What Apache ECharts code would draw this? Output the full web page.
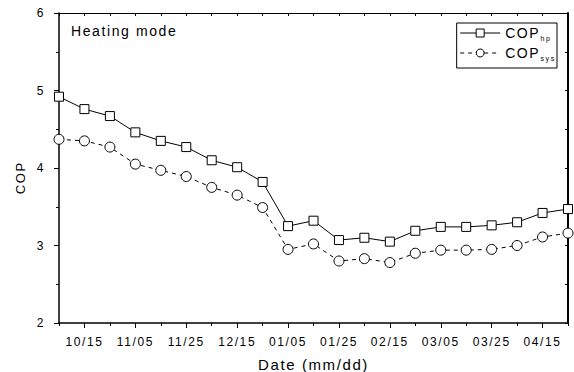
<!DOCTYPE html>
<html>
<head>
<meta charset="utf-8">
<script src="https://cdn.jsdelivr.net/npm/echarts@6/dist/echarts.min.js"></script>
<style>
	html, body { margin: 0; padding: 0; background: #fff; }
	#chart { width: 574px; height: 372px; }
	/* Origin-style wide tracking */
	#chart text { letter-spacing: 1.6px; }
</style>
</head>
<body>
<div id="chart"></div>
<script>
// dates every ~10 days, only every other one is labelled
var dates = ['10/05', '10/15', '10/25', '11/05', '11/15', '11/25', '12/05', '12/15', '12/25', '01/05',
	'01/15', '01/25', '02/05', '02/15', '02/25', '03/05', '03/15', '03/25', '04/05', '04/15', '04/25'];
var copHp = [4.92, 4.76, 4.67, 4.46, 4.35, 4.27, 4.10, 4.01, 3.82, 3.25,
	3.32, 3.07, 3.10, 3.05, 3.19, 3.24, 3.24, 3.26, 3.30, 3.42, 3.47];
var copSys = [4.37, 4.35, 4.27, 4.05, 3.97, 3.89, 3.75, 3.65, 3.49, 2.95,
	3.02, 2.80, 2.83, 2.78, 2.90, 2.94, 2.94, 2.95, 3.00, 3.11, 3.16];
var yTicks = [2, 3, 4, 5, 6];

var font = 'Arial, "Liberation Sans", sans-serif';
var myChart = echarts.init(document.getElementById('chart'), null, { renderer: 'svg' });

var option = {
	animation: false,
	backgroundColor: '#fff',
	textStyle: { fontFamily: font, color: '#000' },
	grid: { left: 59, right: 6, top: 13, bottom: 49, outerBoundsMode: 'none' },
	title: {
		text: 'Heating mode',
		left: 66, top: 19,
		textStyle: { fontFamily: font, fontSize: 14, fontWeight: 'normal', color: '#000' }
	},
	legend: {
		orient: 'vertical',
		right: 17, top: 23,
		padding: [3, 6, 6, 3],
		itemGap: 4,
		itemWidth: 40, itemHeight: 10,
		borderColor: '#000', borderWidth: 1, borderRadius: 0,
		backgroundColor: '#fff',
		lineStyle: { width: 1 },
		itemStyle: { borderWidth: 1 },
		data: ['COPhp', 'COPsys'],
		formatter: function(name) {
			return '{m|COP}{s|' + name.slice(3) + '}';
		},
		textStyle: {
			rich: {
				m: { fontFamily: font, fontSize: 14, color: '#000', lineHeight: 18 },
				s: { fontFamily: font, fontSize: 7, color: '#000', lineHeight: 18, verticalAlign: 'bottom', padding: [6, 0, 0, 5] }
			}
		}
	},
	graphic: [{
		type: 'text',
		left: 14, top: 166,
		rotation: Math.PI / 2,
		style: { text: 'COP', font: '13px ' + font, fill: '#000' }
	}],
	xAxis: [{
		// main bottom axis: major ticks + labels
		type: 'category',
		data: dates,
		boundaryGap: false,
		position: 'bottom',
		name: 'Date (mm/dd)',
		nameLocation: 'middle',
		nameGap: 34,
		nameTextStyle: { fontFamily: font, fontSize: 15, color: '#000' },
		axisLine: { lineStyle: { color: '#000', width: 1.5 } },
		axisTick: { length: 5, interval: function(i) { return i % 2 === 1; }, lineStyle: { color: '#000' } },
		axisLabel: { interval: function(i) { return i % 2 === 1; }, margin: 13, fontSize: 12, color: '#000', fontFamily: font },
		splitLine: { show: false }
	}, {
		// minor bottom ticks
		type: 'category',
		data: dates,
		boundaryGap: false,
		position: 'bottom',
		axisLine: { show: false },
		axisTick: { length: 3, interval: 0, lineStyle: { color: '#000' } },
		axisLabel: { show: false },
		splitLine: { show: false }
	}, {
		// top frame
		type: 'category',
		data: dates,
		boundaryGap: false,
		position: 'top',
		axisLine: { lineStyle: { color: '#000', width: 1 } },
		axisTick: { inside: true, length: 3, interval: 0, lineStyle: { color: '#000' } },
		axisLabel: { show: false },
		splitLine: { show: false }
	}],
	yAxis: [{
		type: 'value',
		min: yTicks[0], max: yTicks[yTicks.length - 1], interval: 1,
		position: 'left',
		axisLine: { show: true, lineStyle: { color: '#000', width: 1.5 } },
		axisTick: { show: true, length: 5, lineStyle: { color: '#000' } },
		minorTick: { show: true, splitNumber: 2, length: 3, lineStyle: { color: '#000' } },
		axisLabel: { margin: 14, fontSize: 12, color: '#000', fontFamily: font },
		splitLine: { show: false }
	}, {
		type: 'value',
		min: yTicks[0], max: yTicks[yTicks.length - 1], interval: 0.5,
		position: 'right',
		axisLine: { show: true, lineStyle: { color: '#000', width: 2 } },
		axisTick: { show: true, inside: true, length: 3, lineStyle: { color: '#000' } },
		axisLabel: { show: false },
		splitLine: { show: false }
	}],
	series: [{
		name: 'COPhp',
		type: 'line',
		data: copHp,
		symbol: 'rect',
		symbolSize: 9,
		lineStyle: { color: '#000', width: 1 },
		itemStyle: { color: '#fff', borderColor: '#000', borderWidth: 1 }
	}, {
		name: 'COPsys',
		type: 'line',
		data: copSys,
		symbol: 'circle',
		symbolSize: 10,
		lineStyle: { color: '#000', width: 1, type: [4, 4] },
		itemStyle: { color: '#fff', borderColor: '#000', borderWidth: 1 }
	}]
};

myChart.setOption(option, true);
window.onresize = function() {
	myChart.resize();
};
</script>
</body>
</html>
